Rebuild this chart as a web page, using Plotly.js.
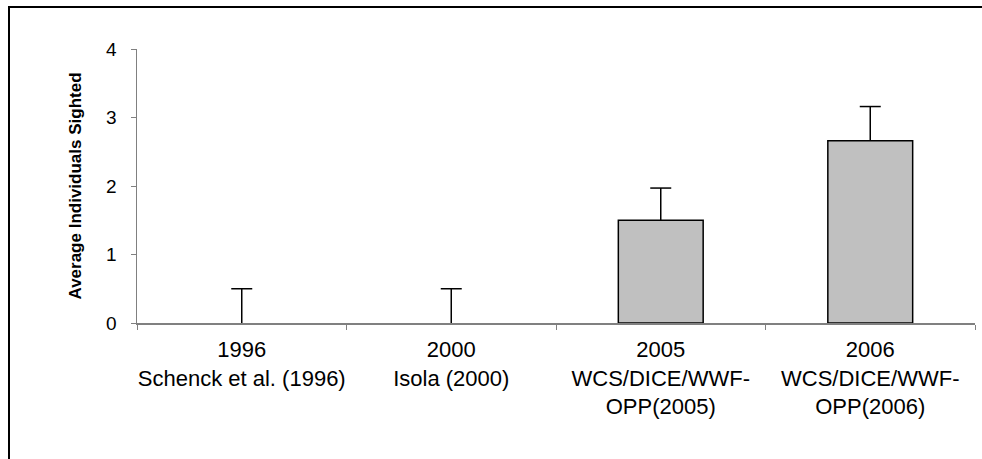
<!DOCTYPE html>
<html>
<head>
<meta charset="utf-8">
<script src="https://cdn.plot.ly/plotly-3.0.1.min.js"></script>
<style>
  html, body { margin: 0; padding: 0; background: #fff; }
  #wrap { position: relative; width: 982px; height: 459px; overflow: hidden; }
  #chart { width: 982px; height: 459px; }
  #frame { position: absolute; left: 8px; top: 6px; width: 1000px; height: 500px;
           border-left: 2px solid #000; border-top: 2px solid #000; pointer-events: none; }
</style>
</head>
<body>
<div id="wrap">
  <div id="chart"></div>
  <div id="frame"></div>
</div>
<script>
const categories = [
  "1996<br>Schenck et al. (1996)",
  "2000<br>Isola (2000)",
  "2005<br>WCS/DICE/WWF-<br>OPP(2005)",
  "2006<br>WCS/DICE/WWF-<br>OPP(2006)"
];
const averages = [0, 0, 1.5, 2.66];
const errorsPlus = [0.5, 0.5, 0.47, 0.5];
const yTitle = "Average Individuals Sighted";

const barTrace = {
  type: "bar",
  x: categories,
  y: averages,
  width: 0.405,
  marker: {
    color: "#C0C0C0",
    line: { color: "#000", width: averages.map(v => v > 0 ? 1.5 : 0) }
  },
  error_y: {
    type: "data",
    symmetric: false,
    array: errorsPlus,
    arrayminus: averages.map(() => 0),
    color: "#000",
    thickness: 1.5,
    width: 0
  },
  hoverinfo: "none"
};

// caps on top of the error bars only
const capTrace = {
  type: "scatter",
  mode: "markers",
  x: categories,
  y: averages.map((v, i) => v + errorsPlus[i]),
  marker: { symbol: "line-ew", size: 15, line: { color: "#000", width: 1.5 } },
  hoverinfo: "none"
};

const layout = {
  width: 982, height: 459,
  margin: { l: 137, r: 7, t: 49, b: 136 },
  paper_bgcolor: "#fff", plot_bgcolor: "#fff",
  showlegend: false,
  font: { family: "Liberation Sans, Arial, sans-serif", color: "#000" },
  xaxis: {
    type: "category",
    tickson: "boundaries",
    ticks: "outside", ticklen: 5, tickcolor: "#808080", tickwidth: 1,
    showline: true, linecolor: "#808080", linewidth: 1.5,
    showgrid: false, zeroline: false,
    tickfont: { size: 22, family: "Liberation Sans, Arial, sans-serif", color: "#000" },
    ticklabelstandoff: 6,
    tickangle: 0
  },
  yaxis: {
    range: [0, 4],
    dtick: 1,
    ticks: "outside", ticklen: 5, tickcolor: "#808080", tickwidth: 1,
    showline: true, linecolor: "#808080", linewidth: 1.5,
    showgrid: false, zeroline: false,
    tickfont: { size: 19, family: "Liberation Sans, Arial, sans-serif", color: "#000" },
    ticklabelstandoff: 10,
    title: { text: "<b>" + yTitle + "</b>", font: { size: 17, family: "Liberation Sans, Arial, sans-serif", color: "#000" }, standoff: 20 }
  }
};

Plotly.newPlot("chart", [barTrace, capTrace], layout, { staticPlot: true, displayModeBar: false });
</script>
</body>
</html>
